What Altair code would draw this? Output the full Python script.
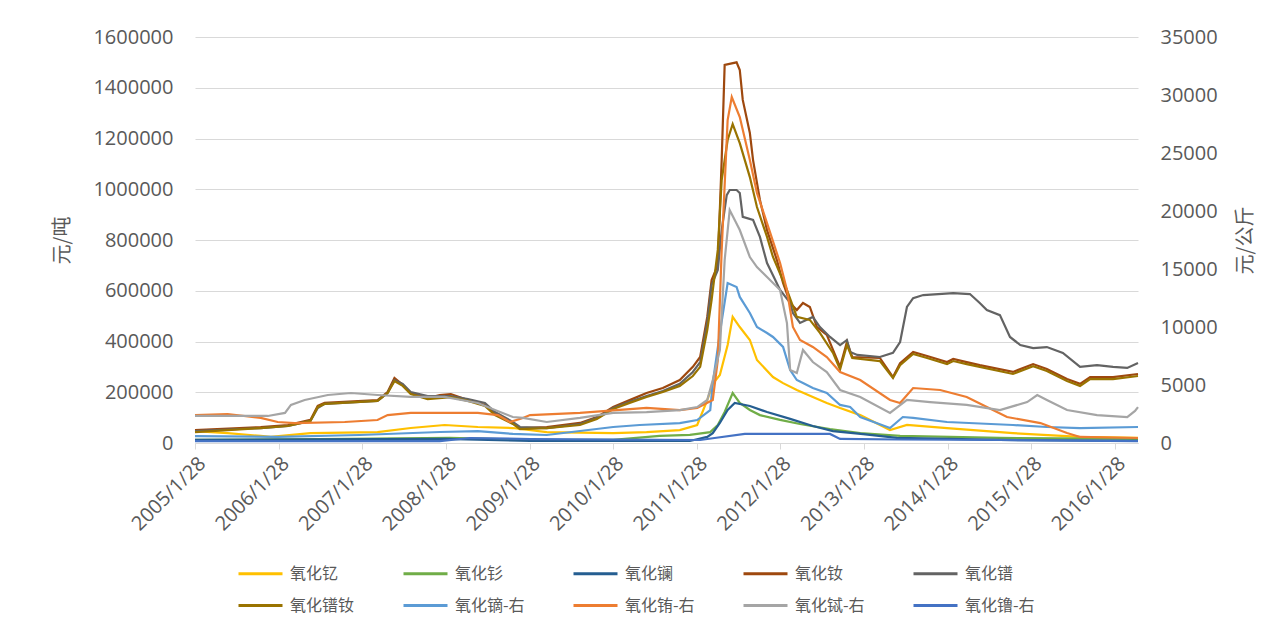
import altair as alt
import pandas as pd

# ---------------- data ----------------
names_left = ["氧化钇", "氧化钐", "氧化镧", "氧化钕", "氧化镨", "氧化镨钕"]
names_right = ["氧化镝-右", "氧化铕-右", "氧化铽-右", "氧化镥-右"]
colors = ["#FFC000", "#70AD47", "#255E91", "#9E480E", "#636363",
          "#997300", "#5B9BD5", "#ED7D31", "#A5A5A5", "#4472C4"]

y_dates = ["2005-01-28","2005-06-19","2005-11-11","2005-12-25","2006-06-16","2007-04-05","2007-08-28","2008-01-23","2008-06-16","2008-11-16","2009-04-13","2010-01-28","2010-06-23","2010-11-15","2011-01-30","2011-03-15","2011-04-08","2011-05-09","2011-06-12","2011-07-04","2011-08-04","2011-09-17","2011-10-18","2011-12-27","2012-02-09","2012-04-09","2012-06-18","2012-08-18","2012-10-15","2013-01-11","2013-05-21","2013-08-03","2014-01-25","2014-11-09","2015-08-29","2016-05-08"]
y_values = [47000,39000,28000,24000,39000,43000,59000,71000,63000,59000,43000,39000,43000,51000,71000,169000,233000,268000,386000,497000,457000,406000,327000,260000,236000,209000,181000,158000,138000,110000,51000,71000,59000,39000,24000,20000]

sm_dates = ["2005-01-28","2006-12-05","2008-02-15","2009-01-30","2010-01-28","2010-08-19","2010-12-29","2011-03-28","2011-04-30","2011-05-30","2011-07-04","2011-08-04","2011-09-17","2011-10-31","2012-01-27","2012-04-23","2012-09-01","2013-01-11","2013-07-04","2014-09-13","2016-05-08"]
sm_values = [12000,16000,20000,12000,12000,28000,32000,43000,71000,122000,197000,158000,130000,110000,91000,75000,55000,39000,28000,20000,16000]

la_dates = ["2005-01-28","2008-01-23","2009-01-30","2010-12-29","2011-03-15","2011-04-08","2011-05-09","2011-06-12","2011-07-13","2011-09-17","2011-12-01","2012-03-11","2012-06-18","2012-09-14","2013-01-24","2013-06-20","2014-09-13","2016-05-08"]
la_values = [12000,16000,8000,8000,24000,39000,79000,130000,158000,146000,122000,95000,67000,47000,35000,20000,12000,8000]

nd_dates = ["2005-01-28","2005-11-11","2006-03-10","2006-06-16","2006-07-18","2006-08-17","2007-04-05","2007-05-19","2007-06-18","2007-07-24",
            "2007-08-28","2007-11-10","2008-01-02","2008-02-19","2008-05-04","2008-07-17","2008-08-30","2008-11-16","2008-12-17","2009-04-13",
            "2009-09-05","2009-11-18","2010-01-28","2010-04-10","2010-06-23","2010-09-02","2010-11-15","2011-01-11","2011-02-12","2011-03-15",
            "2011-04-03","2011-04-30","2011-05-17","2011-05-30","2011-07-21","2011-08-04","2011-08-17","2011-09-17","2011-10-01","2011-10-31",
            "2011-12-01","2012-01-13","2012-02-09","2012-03-11","2012-04-09","2012-05-06","2012-06-05","2012-07-06","2012-08-18","2012-10-15",
            "2012-11-14","2012-12-07","2013-04-07","2013-06-03","2013-07-04","2013-08-30","2013-10-30","2014-01-25","2014-02-21","2014-04-21",
            "2014-06-17","2014-11-09","2015-02-05","2015-04-06","2015-07-03","2015-08-29","2015-10-12","2016-01-20","2016-05-08"]
nd_values = [51000,63000,71000,91000,146000,158000,169000,201000,256000,229000,
             197000,177000,189000,193000,169000,150000,114000,79000,59000,63000,
             79000,102000,142000,169000,197000,217000,248000,300000,339000,497000,
             642000,701000,1115000,1490000,1500000,1470000,1352000,1222000,1115000,958000,
             839000,721000,631000,552000,524000,552000,536000,457000,426000,300000,
             398000,339000,335000,260000,315000,359000,343000,319000,331000,319000,
             307000,280000,311000,292000,252000,233000,260000,260000,272000]

pr_dates = ["2005-01-28","2005-11-11","2006-03-10","2006-06-16","2006-07-18","2006-08-17","2007-04-05","2007-05-19","2007-06-18","2007-07-24",
            "2007-08-28","2007-11-10","2008-02-19","2008-05-04","2008-07-17","2008-08-30","2008-11-16","2008-12-17","2009-04-13","2009-09-05",
            "2009-11-18","2010-01-28","2010-04-10","2010-06-23","2010-09-02","2010-11-15","2011-01-11","2011-02-12","2011-03-15","2011-04-03",
            "2011-04-30","2011-05-17","2011-06-08","2011-06-21","2011-07-21","2011-08-04","2011-08-17","2011-10-01","2011-10-31","2011-12-01",
            "2012-01-27","2012-03-11","2012-03-23","2012-04-23","2012-06-18","2012-07-19","2012-09-01","2012-10-15","2012-11-14","2012-11-28",
            "2012-12-29","2013-04-07","2013-06-03","2013-07-04","2013-08-03","2013-08-30","2013-10-13","2014-02-21","2014-05-05","2014-06-17",
            "2014-07-18","2014-09-13","2014-10-27","2014-12-11","2015-02-05","2015-04-06","2015-06-15","2015-08-29","2015-11-11","2016-01-20",
            "2016-03-22","2016-05-08"]
pr_values = [47000,59000,67000,87000,138000,154000,166000,197000,248000,233000,
             201000,185000,185000,173000,158000,122000,83000,63000,59000,75000,
             99000,138000,162000,185000,205000,233000,280000,319000,477000,623000,
             682000,839000,977000,997000,997000,985000,891000,879000,812000,709000,
             603000,552000,512000,473000,497000,457000,418000,386000,406000,359000,
             347000,339000,355000,398000,536000,571000,583000,591000,587000,552000,
             524000,504000,418000,386000,374000,378000,355000,300000,307000,300000,
             296000,315000]

prnd_dates = ["2005-01-28","2005-11-11","2006-03-10","2006-06-16","2006-07-18","2006-08-17","2007-04-05","2007-05-19","2007-06-18","2007-07-24",
              "2007-08-28","2007-11-10","2008-02-19","2008-05-04","2008-07-17","2008-08-30","2008-11-16","2008-12-17","2009-04-13","2009-09-05",
              "2009-11-18","2010-01-28","2010-04-10","2010-06-23","2010-09-02","2010-11-15","2011-01-11","2011-02-12","2011-03-15","2011-04-03",
              "2011-04-30","2011-05-17","2011-06-12","2011-07-04","2011-08-04","2011-09-17","2011-10-18","2011-12-01","2011-12-27","2012-02-26",
              "2012-04-09","2012-06-05","2012-07-19","2012-09-14","2012-10-15","2012-11-14","2012-12-07","2013-04-07","2013-06-03","2013-07-04",
              "2013-08-30","2013-10-30","2014-01-25","2014-02-21","2014-04-21","2014-06-17","2014-11-09","2015-02-05","2015-04-06","2015-07-03",
              "2015-08-29","2015-10-12","2016-01-20","2016-05-08"]
prnd_values = [43000,59000,67000,87000,142000,154000,166000,197000,244000,225000,
               193000,173000,181000,166000,146000,110000,75000,55000,59000,71000,
               95000,134000,158000,181000,201000,225000,264000,300000,445000,564000,
               761000,1036000,1194000,1257000,1182000,1048000,930000,812000,733000,603000,
               497000,485000,434000,355000,290000,386000,335000,323000,256000,307000,
               351000,335000,311000,323000,311000,300000,272000,303000,284000,244000,
               225000,252000,252000,264000]

dy_dates = ["2005-01-28","2006-01-24","2007-01-17","2008-01-02","2008-06-16","2008-11-16","2009-04-13","2010-01-28","2010-05-24","2010-11-15",
            "2011-01-30","2011-03-28","2011-04-08","2011-05-09","2011-06-12","2011-07-21","2011-08-04","2011-09-17","2011-10-18","2011-12-01",
            "2011-12-27","2012-02-09","2012-03-11","2012-04-09","2012-05-06","2012-06-18","2012-08-18","2012-10-15","2012-11-28","2013-01-11",
            "2013-05-21","2013-07-16","2013-08-30","2014-01-25","2014-11-09","2015-04-06","2015-08-29","2016-05-08"]
dy_values = [600,520,690,950,1030,780,690,1380,1550,1720,
             1980,2840,5170,9480,13790,13450,12590,11210,10000,9480,
             9140,8280,6290,5430,5170,4740,4310,3280,3100,2240,
             1290,2240,2160,1810,1550,1380,1290,1380]

eu_dates = ["2005-01-28","2005-06-19","2005-11-11","2006-01-24","2006-04-08","2006-11-13","2007-04-05","2007-05-19","2007-08-28","2008-01-23",
            "2008-06-16","2008-09-12","2008-11-03","2008-12-30","2009-01-30","2009-09-05","2010-06-23","2010-11-15","2011-01-30","2011-04-08",
            "2011-04-30","2011-05-17","2011-06-12","2011-06-30","2011-08-04","2011-09-17","2011-10-18","2011-12-01","2012-01-27","2012-02-26",
            "2012-03-23","2012-04-23","2012-06-18","2012-08-18","2012-10-15","2013-01-11","2013-05-21","2013-07-04","2013-08-30","2013-12-26",
            "2014-04-21","2014-07-18","2014-10-14","2015-03-09","2015-07-03","2015-08-29","2016-05-08"]
eu_values = [2410,2500,2160,1810,1720,1810,1980,2410,2590,2590,
             2590,2410,1810,2160,2410,2590,3020,2840,3020,3710,
             7150,16640,27840,29830,28100,24390,21550,18960,15520,13190,
             10000,8880,8280,7410,6120,5430,3710,3450,4740,4570,
             3970,3100,2240,1720,860,520,430]

tb_dates = ["2005-01-28","2005-12-12","2006-02-25","2006-03-23","2006-05-22","2006-08-31","2006-12-10","2007-04-05","2007-08-28","2008-01-23",
            "2008-06-16","2008-08-30","2008-11-16","2008-12-30","2009-04-13","2009-09-05","2010-01-28","2010-06-23","2010-11-15","2011-01-30",
            "2011-03-15","2011-04-08","2011-05-09","2011-05-30","2011-06-21","2011-08-04","2011-09-17","2011-10-18","2011-12-01","2012-01-27",
            "2012-02-26","2012-03-11","2012-04-09","2012-05-06","2012-06-18","2012-08-18","2012-10-15","2013-01-11","2013-05-21","2013-08-03",
            "2013-11-12","2014-04-21","2014-09-13","2015-01-10","2015-02-23","2015-04-06","2015-07-03","2015-11-11","2016-03-22","2016-04-25",
            "2016-05-08"]
tb_values = [2330,2330,2590,3280,3710,4140,4310,4140,3970,3970,
             3450,2840,2240,2160,1810,2160,2590,2670,2840,3100,
             3710,5430,8020,15770,20080,18360,16030,15170,14310,13190,
             10340,6290,6030,8020,6980,6120,4570,3970,2590,3710,
             3530,3280,2840,3530,4140,3710,2840,2410,2240,2760,
             3100]

lu_dates = ["2005-01-28","2008-01-02","2008-05-12","2009-01-30","2011-02-12","2011-04-16","2011-08-26","2012-09-01","2012-10-15","2013-07-04","2014-09-13","2016-05-08"]
lu_values = [170,170,430,340,260,430,780,780,350,300,260,170]

left_ticks = [0, 200000, 400000, 600000, 800000, 1000000, 1200000, 1400000, 1600000]
right_ticks = [0, 5000, 10000, 15000, 20000, 25000, 30000, 35000]
tick_years = list(range(2005, 2017))

# ---------------- build tables ----------------
def long(series):
    rows = []
    for name, ds, vs in series:
        for d, v in zip(ds, vs):
            rows.append({"name": name, "date": d, "value": v})
    return pd.DataFrame(rows)

left_df = long([
    ("氧化钇", y_dates, y_values), ("氧化钐", sm_dates, sm_values),
    ("氧化镧", la_dates, la_values), ("氧化钕", nd_dates, nd_values),
    ("氧化镨", pr_dates, pr_values), ("氧化镨钕", prnd_dates, prnd_values),
])
right_df = long([
    ("氧化镝-右", dy_dates, dy_values), ("氧化铕-右", eu_dates, eu_values),
    ("氧化铽-右", tb_dates, tb_values), ("氧化镥-右", lu_dates, lu_values),
])

FONT = "Open Sans"
CJK = "Noto Sans CJK SC"
GREY = "#595959"

x_enc = alt.X(
    "date:T",
    scale=alt.Scale(type="utc",
                    domain=[alt.DateTime(year=2005, month=1, date=28, utc=True),
                            alt.DateTime(year=2016, month=5, date=8, utc=True)]),
    axis=alt.Axis(
        values=[alt.DateTime(year=yy, month=1, date=28, utc=True) for yy in tick_years],
        labelExpr="utcFormat(datum.value, '%Y/%-m/%-d')",
        labelAngle=315, labelFontSize=20, labelFont=FONT, labelColor=GREY,
        labelPadding=4, grid=False, domainColor="#D9D9D9", tickColor="#D9D9D9",
        tickSize=6, title=None, labelOverlap=False, labelFlush=False,
    ),
)

color_enc = alt.Color(
    "name:N",
    scale=alt.Scale(domain=names_left + names_right, range=colors),
    legend=alt.Legend(
        title=None, orient="none", legendX=53, legendY=524, columns=5,
        direction="horizontal", symbolType="M-2,0H2", symbolStrokeWidth=3,
        symbolSize=484, symbolFillColor="transparent",
        labelFont=CJK, labelFontSize=16, labelColor=GREY,
        labelOffset=17, columnPadding=42, rowPadding=11, labelLimit=0,
    ),
)

left = alt.Chart(left_df).mark_line(strokeWidth=2.2).encode(
    x=x_enc,
    y=alt.Y("value:Q", scale=alt.Scale(domain=[0, 1600000], nice=False),
            axis=alt.Axis(values=left_ticks, format="d", title="元/吨",
                          titleFont=CJK, titleFontSize=20, titleFontWeight="normal",
                          titleColor=GREY, titleAngle=270, titleX=-133, titleY=203,
                          titleBaseline="middle", titleAlign="center",
                          labelFont=FONT, labelFontSize=20, labelColor=GREY,
                          labelPadding=22, grid=True, gridColor="#D9D9D9",
                          domain=False, ticks=False)),
    color=color_enc,
    detail="name:N",
)

right = alt.Chart(right_df).mark_line(strokeWidth=2.2).encode(
    x=x_enc,
    y=alt.Y("value:Q", scale=alt.Scale(domain=[0, 35000], nice=False),
            axis=alt.Axis(values=right_ticks, format="d", title="元/公斤", orient="right",
                          titleFont=CJK, titleFontSize=20, titleFontWeight="normal",
                          titleColor=GREY, titleAngle=270, titleX=107, titleY=203,
                          titleBaseline="middle", titleAlign="center",
                          labelFont=FONT, labelFontSize=20, labelColor=GREY,
                          labelPadding=22, grid=False, domain=False, ticks=False)),
    color=color_enc,
    detail="name:N",
)

chart = alt.layer(left, right).resolve_scale(y="independent").properties(
    width=943, height=406,
    autosize=alt.AutoSizeParams(type="none"),
    padding={"left": 195, "top": 37, "right": 124, "bottom": 188},
    background="white",
).configure_view(stroke=None)

chart.save("out.html", embed_options={"renderer": "svg", "actions": False})
